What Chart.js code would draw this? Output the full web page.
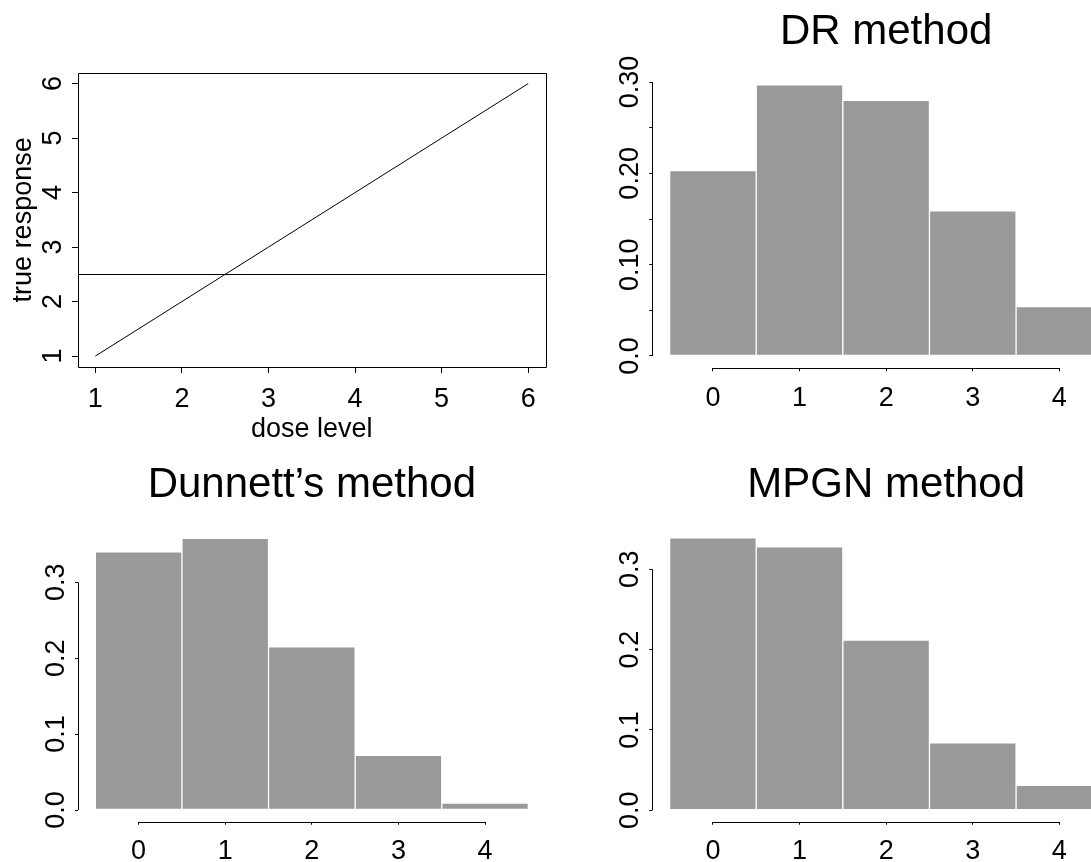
<!DOCTYPE html>
<html>
<head>
<meta charset="utf-8">
<title>Dose finding simulation</title>
<script src="https://cdn.jsdelivr.net/npm/chart.js@4.4.1/dist/chart.umd.min.js"></script>
<style>
  html, body { margin: 0; padding: 0; background: #fff; width: 1091px; height: 862px; overflow: hidden; }
  canvas { position: absolute; }
</style>
</head>
<body>
<canvas id="dose-chart"></canvas>
<canvas id="dr-chart"></canvas>
<canvas id="dunnett-chart"></canvas>
<canvas id="mpgn-chart"></canvas>
<script>
// dose-response curve (top left)
const doseLevels = [1, 2, 3, 4, 5, 6];
const trueResponse = [1, 2, 3, 4, 5, 6];
const targetResponse = 2.5;
const doseTicks = [1, 2, 3, 4, 5, 6];
const doseTickLabels = ['1', '2', '3', '4', '5', '6'];

// selection frequencies of each dose by method
const selectedDose = [0, 1, 2, 3, 4];
const drFreq = [0.203, 0.297, 0.280, 0.159, 0.054];
const dunnettFreq = [0.340, 0.358, 0.215, 0.072, 0.009];
const mpgnFreq = [0.339, 0.328, 0.212, 0.084, 0.031];

const drTicks = [0, 0.05, 0.10, 0.15, 0.20, 0.25, 0.30];
const drTickLabels = ['0.0', '', '0.10', '', '0.20', '', '0.30'];
const freqTicks = [0, 0.1, 0.2, 0.3];
const freqTickLabels = ['0.0', '0.1', '0.2', '0.3'];

const FONT = '"Liberation Sans", Arial, sans-serif';
const TICK_SIZE = 27;

Chart.defaults.font.family = FONT;
Chart.defaults.color = '#000';

function widestLabel(labels, size) {
    const c = document.createElement('canvas').getContext('2d');
    c.font = size + 'px ' + FONT;
    return Math.max(...labels.map(l => c.measureText(l).width));
}

function crisp(v) {
    return Math.round(v) + 0.5;
}

// frame / R style axis lines, reference line and main title
const rStyle = {
    id: 'rStyle',
    afterDatasetsDraw(chart, args, opts) {
        const { ctx, chartArea: a, scales: { x, y } } = chart;
        ctx.save();
        ctx.strokeStyle = '#000';
        ctx.lineWidth = 1;
        ctx.beginPath();
        if (opts.hline !== undefined) {
            const py = crisp(y.getPixelForValue(opts.hline));
            ctx.moveTo(a.left, py);
            ctx.lineTo(a.right, py);
        }
        if (opts.frame) {
            ctx.rect(crisp(a.left), crisp(a.top), Math.round(a.right - a.left), Math.round(a.bottom - a.top));
        } else {
            const xl = crisp(a.left);
            ctx.moveTo(xl, y.getPixelForValue(y.ticks[0].value));
            ctx.lineTo(xl, y.getPixelForValue(y.ticks[y.ticks.length - 1].value));
            const yb = crisp(a.bottom);
            ctx.moveTo(x.getPixelForValue(x.ticks[0].value), yb);
            ctx.lineTo(x.getPixelForValue(x.ticks[x.ticks.length - 1].value), yb);
        }
        ctx.stroke();
        if (opts.title) {
            ctx.font = '42px ' + FONT;
            ctx.fillStyle = '#000';
            ctx.textAlign = 'center';
            ctx.textBaseline = 'alphabetic';
            ctx.fillText(opts.title, (a.left + a.right) / 2, opts.titleY);
        }
        ctx.restore();
    }
};

function makePanel(id, p) {
    const canvas = document.getElementById(id);
    canvas.width = p.w;
    canvas.height = p.h;
    canvas.style.left = p.left + 'px';
    canvas.style.top = p.top + 'px';

    const yPad = p.labelGap - p.tick - widestLabel(p.yLabels, TICK_SIZE) / 2;

    return new Chart(canvas, {
        type: p.type,
        data: { datasets: [p.dataset] },
        options: {
            responsive: false,
            animation: false,
            events: [],
            layout: {
                padding: { left: 0, bottom: 0, top: p.area.top - p.top, right: p.left + p.w - p.area.right }
            },
            plugins: {
                legend: { display: false },
                tooltip: { enabled: false },
                rStyle: { frame: p.frame, hline: p.hline, title: p.title, titleY: p.titleY }
            },
            scales: {
                x: {
                    type: 'linear',
                    min: p.xMin,
                    max: p.xMax,
                    offset: false,
                    afterBuildTicks: s => { s.ticks = p.xTicks.map(v => ({ value: v })); },
                    afterFit: s => { s.height = p.top + p.h - p.area.bottom; },
                    grid: { offset: false, drawOnChartArea: false, tickLength: p.tick, color: '#000', lineWidth: 1 },
                    border: { display: false },
                    ticks: { autoSkip: false, maxRotation: 0, padding: p.xPad, font: { size: TICK_SIZE } },
                    title: {
                        display: !!p.xTitle,
                        text: p.xTitle,
                        font: { size: 27 },
                        padding: { top: 0, bottom: 4 }
                    }
                },
                y: {
                    min: p.yMin,
                    max: p.yMax,
                    afterBuildTicks: s => { s.ticks = p.yTicks.map(v => ({ value: v })); },
                    afterFit: s => { s.width = p.area.left - p.left; },
                    grid: { drawOnChartArea: false, tickLength: p.tick, color: '#000', lineWidth: 1 },
                    border: { display: false },
                    ticks: {
                        autoSkip: false,
                        minRotation: 90,
                        maxRotation: 90,
                        crossAlign: 'center',
                        padding: yPad,
                        font: { size: TICK_SIZE },
                        callback: (v, i) => p.yLabels[i]
                    },
                    title: {
                        display: !!p.yTitle,
                        text: p.yTitle,
                        font: { size: 27 },
                        padding: { top: 7, bottom: 0 }
                    }
                }
            }
        },
        plugins: [rStyle]
    });
}

function freqBars(freq) {
    return {
        data: selectedDose.map((d, i) => ({ x: d, y: freq[i] })),
        backgroundColor: '#999999',
        borderColor: '#ffffff',
        borderWidth: 1,
        borderSkipped: false,
        barPercentage: 1,
        categoryPercentage: 1
    };
}

document.addEventListener('DOMContentLoaded', () => {
    makePanel('dose-chart', {
        type: 'line',
        left: 0, top: 0, w: 560, h: 450,
        area: { left: 78, right: 545.5, top: 72.7, bottom: 367 },
        xMin: 0.8, xMax: 6.2, yMin: 0.8, yMax: 6.2,
        xTicks: doseTicks, yTicks: doseTicks, yLabels: doseTickLabels,
        tick: 6, xPad: 10, labelGap: 24,
        frame: true, hline: targetResponse,
        xTitle: 'dose level', yTitle: 'true response',
        dataset: {
            data: doseLevels.map((d, i) => ({ x: d, y: trueResponse[i] })),
            borderColor: '#000',
            borderWidth: 1,
            pointRadius: 0,
            tension: 0,
            fill: false
        }
    });

    makePanel('dr-chart', {
        type: 'bar',
        left: 560, top: 0, w: 585, h: 450,
        area: { left: 652.3, right: 1120, top: 72, bottom: 368.3 },
        xMin: -0.7, xMax: 4.7, yMin: -0.0135, yMax: 0.311,
        xTicks: selectedDose, yTicks: drTicks, yLabels: drTickLabels,
        tick: 3, xPad: 11, labelGap: 21.3,
        title: 'DR method', titleY: 44,
        dataset: freqBars(drFreq)
    });

    makePanel('dunnett-chart', {
        type: 'bar',
        left: 0, top: 450, w: 560, h: 412,
        area: { left: 78, right: 545.7, top: 527.5, bottom: 821.7 },
        xMin: -0.7, xMax: 4.7, yMin: -0.0154, yMax: 0.3722,
        xTicks: selectedDose, yTicks: freqTicks, yLabels: freqTickLabels,
        tick: 3, xPad: 11, labelGap: 21.4,
        title: 'Dunnett\u2019s method', titleY: 47,
        dataset: freqBars(dunnettFreq)
    });

    makePanel('mpgn-chart', {
        type: 'bar',
        left: 560, top: 450, w: 585, h: 412,
        area: { left: 652.3, right: 1120, top: 527.1, bottom: 821.7 },
        xMin: -0.7, xMax: 4.7, yMin: -0.0142, yMax: 0.3525,
        xTicks: selectedDose, yTicks: freqTicks, yLabels: freqTickLabels,
        tick: 3, xPad: 11, labelGap: 21.3,
        title: 'MPGN method', titleY: 47,
        dataset: freqBars(mpgnFreq)
    });
});
</script>
</body>
</html>
